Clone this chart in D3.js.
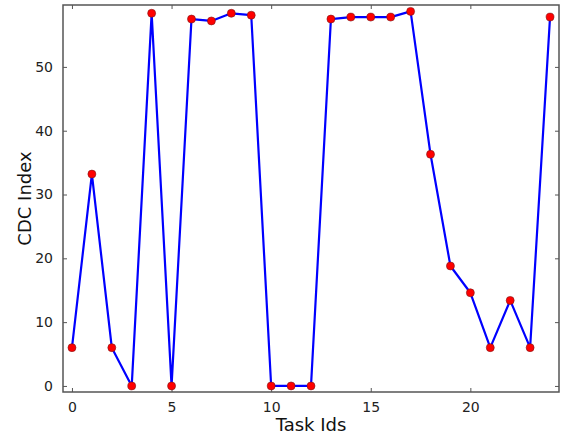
<!DOCTYPE html>
<html>
<head>
<meta charset="utf-8">
<script src="https://cdn.jsdelivr.net/npm/d3@7"></script>
<style>
  body { margin: 0; background: #fff; }
  svg { display: block; font-family: "DejaVu Sans", sans-serif; }
</style>
</head>
<body>
<div id="wrapper"></div>
<script>
// values
const taskIds = d3.range(0, 25);
const cdcIndex = [6, 33.2, 6, 0, 58.4, 0, 57.5, 57.2, 58.4, 58.1, 0, 0, 0,
                  57.5, 57.8, 57.8, 57.8, 58.7, 36.3, 18.8, 14.6, 6, 13.4, 6, 57.8];
const xTicks = [0, 5, 10, 15, 20];
const yTicks = [0, 10, 20, 30, 40, 50];

const dimension = {
    width: 562,
    height: 436,
    margin: { top: 5, left: 63, bottom: 44, right: 3 }
};
dimension.boundedWidth = dimension.width - dimension.margin.left - dimension.margin.right;
dimension.boundedHeight = dimension.height - dimension.margin.top - dimension.margin.bottom;

const svg = d3.select("#wrapper").append("svg")
    .attr("width", dimension.width)
    .attr("height", dimension.height);

const bounded = svg.append("g")
    .attr("transform", `translate(${dimension.margin.left},${dimension.margin.top})`);

const xScaler = d3.scaleLinear()
    .domain([-0.45, 24.45])
    .range([0, dimension.boundedWidth]);

const yScaler = d3.scaleLinear()
    .domain([-0.95, d3.max(cdcIndex) + 1])
    .range([dimension.boundedHeight, 0]);

const axisColor = "#555";

// ticks point inward, matplotlib classic style, on all four sides
function styleAxis(g) {
    g.select(".domain").remove();
    g.selectAll(".tick line").attr("stroke", axisColor);
    g.selectAll(".tick text")
        .attr("fill", "#222")
        .style("font-size", "14px")
        .style("font-family", "DejaVu Sans");
}

bounded.append("g")
    .attr("transform", `translate(0,${dimension.boundedHeight})`)
    .call(d3.axisBottom(xScaler).tickValues(xTicks).tickSize(-4).tickPadding(10))
    .call(styleAxis);

bounded.append("g")
    .call(d3.axisTop(xScaler).tickValues(xTicks).tickSize(-4).tickFormat(""))
    .call(styleAxis);

bounded.append("g")
    .call(d3.axisLeft(yScaler).tickValues(yTicks).tickSize(-4).tickPadding(10))
    .call(styleAxis);

bounded.append("g")
    .attr("transform", `translate(${dimension.boundedWidth},0)`)
    .call(d3.axisRight(yScaler).tickValues(yTicks).tickSize(-4).tickFormat(""))
    .call(styleAxis);

const lineGenerator = d3.line()
    .x((d, i) => xScaler(taskIds[i]))
    .y(d => yScaler(d));

bounded.append("path")
    .attr("d", lineGenerator(cdcIndex))
    .attr("fill", "none")
    .attr("stroke", "#0000ff")
    .attr("stroke-width", 2.2)
    .attr("stroke-linejoin", "round");

bounded.selectAll("circle")
    .data(cdcIndex)
    .join("circle")
    .attr("cx", (d, i) => xScaler(taskIds[i]))
    .attr("cy", d => yScaler(d))
    .attr("r", 4)
    .attr("fill", "#ff0000")
    .attr("stroke", "#7a1a1a")
    .attr("stroke-width", 0.6);

// frame
bounded.append("rect")
    .attr("width", dimension.boundedWidth)
    .attr("height", dimension.boundedHeight)
    .attr("fill", "none")
    .attr("stroke", axisColor)
    .attr("stroke-width", 1.5);

svg.append("text")
    .attr("x", dimension.margin.left + dimension.boundedWidth / 2)
    .attr("y", 431)
    .attr("text-anchor", "middle")
    .style("font-size", "18px")
    .attr("fill", "#111")
    .text("Task Ids");

svg.append("text")
    .attr("text-anchor", "middle")
    .attr("transform", `translate(31,${dimension.margin.top + dimension.boundedHeight / 2})rotate(-90)`)
    .style("font-size", "18px")
    .attr("fill", "#111")
    .text("CDC Index");
</script>
</body>
</html>
